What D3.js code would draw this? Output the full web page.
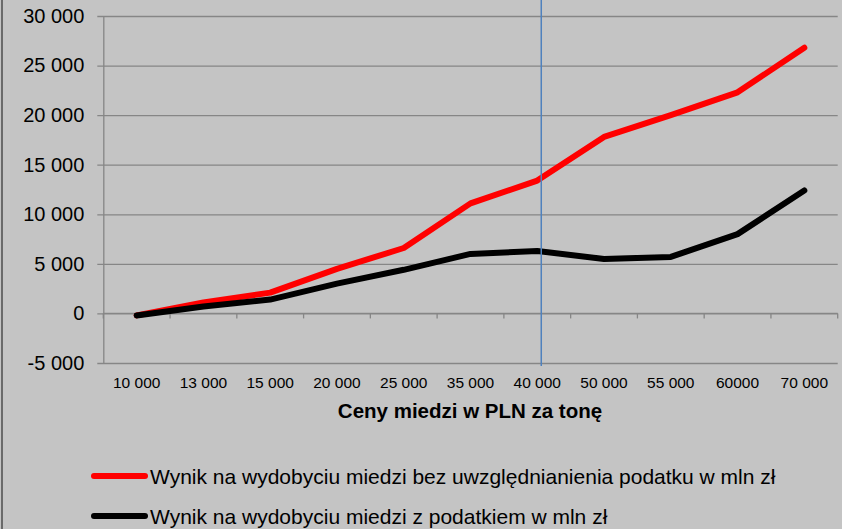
<!DOCTYPE html>
<html>
<head>
<meta charset="utf-8">
<script src="https://cdn.jsdelivr.net/npm/d3@7"></script>
<style>
  html, body { margin: 0; padding: 0; background: #c4c4c4; }
  svg { display: block; font-family: "Liberation Sans", Arial, sans-serif; }
</style>
</head>
<body>
<svg id="chart" width="842" height="529"></svg>
<script>
// categories: copper price in PLN per tonne
const prices = ['10 000', '13 000', '15 000', '20 000', '25 000', '35 000', '40 000', '50 000', '55 000', '60000', '70 000'];
// mining result without tax, mln zl
const resultNoTax = [-200, 1100, 2100, 4500, 6600, 11100, 13400, 17800, 20000, 22300, 26800];
// mining result with tax, mln zl
const resultTax = [-200, 700, 1400, 3000, 4400, 6000, 6300, 5500, 5700, 8000, 12400];
const yTicks = [-5000, 0, 5000, 10000, 15000, 20000, 25000, 30000];
const markPrice = '40 000';

const series = [
  { name: 'Wynik na wydobyciu miedzi bez uwzględnianienia podatku w mln zł', values: resultNoTax, color: '#ff0000' },
  { name: 'Wynik na wydobyciu miedzi z podatkiem w mln zł', values: resultTax, color: '#000000' },
];

const plLocale = d3.formatLocale({ decimal: ',', thousands: ' ', grouping: [3], currency: ['', ' zł'], minus: '-' });
const fmt = plLocale.format(',d');

const svg = d3.select('#chart');

const plotLeft = 103.3, plotRight = 837.7, plotTop = 16, plotBottom = 363;

const xScale = d3.scaleBand().domain(prices).range([plotLeft, plotRight]);
const yScale = d3.scaleLinear().domain([-5000, 30000]).range([plotBottom, plotTop]);

// frame line on the left
svg.append('line')
  .attr('x1', 2).attr('x2', 2).attr('y1', 0).attr('y2', 529)
  .attr('stroke', '#4d4d4d').attr('stroke-width', 1.5);

// y axis with gridlines
const yAxis = svg.append('g')
  .attr('transform', `translate(${plotLeft},0)`)
  .call(d3.axisLeft(yScale).tickValues(yTicks).tickFormat(fmt)
    .tickSizeInner(-(plotRight - plotLeft)).tickSizeOuter(0).tickPadding(19));
yAxis.select('.domain').attr('stroke', '#868686').attr('stroke-width', 1.3);
yAxis.selectAll('.tick line')
  .attr('x1', -6)
  .attr('stroke', '#868686').attr('stroke-width', 1.3);
yAxis.selectAll('.tick text')
  .attr('font-size', 20).attr('fill', '#000').attr('font-family', '"Liberation Sans", Arial, sans-serif');

// x axis on zero line, ticks at category boundaries
const xAxisG = svg.append('g').attr('transform', `translate(0,${yScale(0)})`);
xAxisG.append('line')
  .attr('x1', plotLeft).attr('x2', plotRight)
  .attr('stroke', '#868686').attr('stroke-width', 1.3);
const bounds = prices.map(p => xScale(p)).concat([plotRight]);
xAxisG.selectAll('line.tk')
  .data(bounds)
  .enter()
  .append('line')
  .attr('class', 'tk')
  .attr('x1', d => d).attr('x2', d => d)
  .attr('y1', 0).attr('y2', 5)
  .attr('stroke', '#868686').attr('stroke-width', 1.3);

// category labels below the plot
svg.append('g')
  .selectAll('text')
  .data(prices)
  .enter()
  .append('text')
  .attr('x', d => xScale(d) + xScale.bandwidth() / 2)
  .attr('y', 388)
  .attr('text-anchor', 'middle')
  .attr('font-size', 15.5)
  .text(d => d);

// axis title
svg.append('text')
  .attr('x', 470).attr('y', 418)
  .attr('text-anchor', 'middle')
  .attr('font-size', 20.5).attr('font-weight', 'bold')
  .text('Ceny miedzi w PLN za tonę');

// series lines
const lineGen = d3.line()
  .x((d, i) => xScale(prices[i]) + xScale.bandwidth() / 2)
  .y(d => yScale(d));

svg.append('g')
  .selectAll('path')
  .data(series)
  .enter()
  .append('path')
  .attr('d', d => lineGen(d.values))
  .attr('fill', 'none')
  .attr('stroke', d => d.color)
  .attr('stroke-width', 6)
  .attr('stroke-linejoin', 'round')
  .attr('stroke-linecap', 'round');

// blue marker line at 40 000
const mx = xScale(markPrice) + xScale.bandwidth() / 2 + 4;
svg.append('line')
  .attr('x1', mx).attr('x2', mx)
  .attr('y1', 0).attr('y2', yScale(-5000) + 3)
  .attr('stroke', '#4f81bd').attr('stroke-width', 1.5);

// legend
const legend = svg.append('g')
  .selectAll('g')
  .data(series)
  .enter()
  .append('g')
  .attr('transform', (d, i) => `translate(0,${476 + i * 40})`);
legend.append('line')
  .attr('x1', 94).attr('x2', 145)
  .attr('stroke', d => d.color).attr('stroke-width', 6)
  .attr('stroke-linecap', 'round');
legend.append('text')
  .attr('x', 150).attr('y', 7.5)
  .attr('font-size', 21)
  .text(d => d.name);
</script>
</body>
</html>
